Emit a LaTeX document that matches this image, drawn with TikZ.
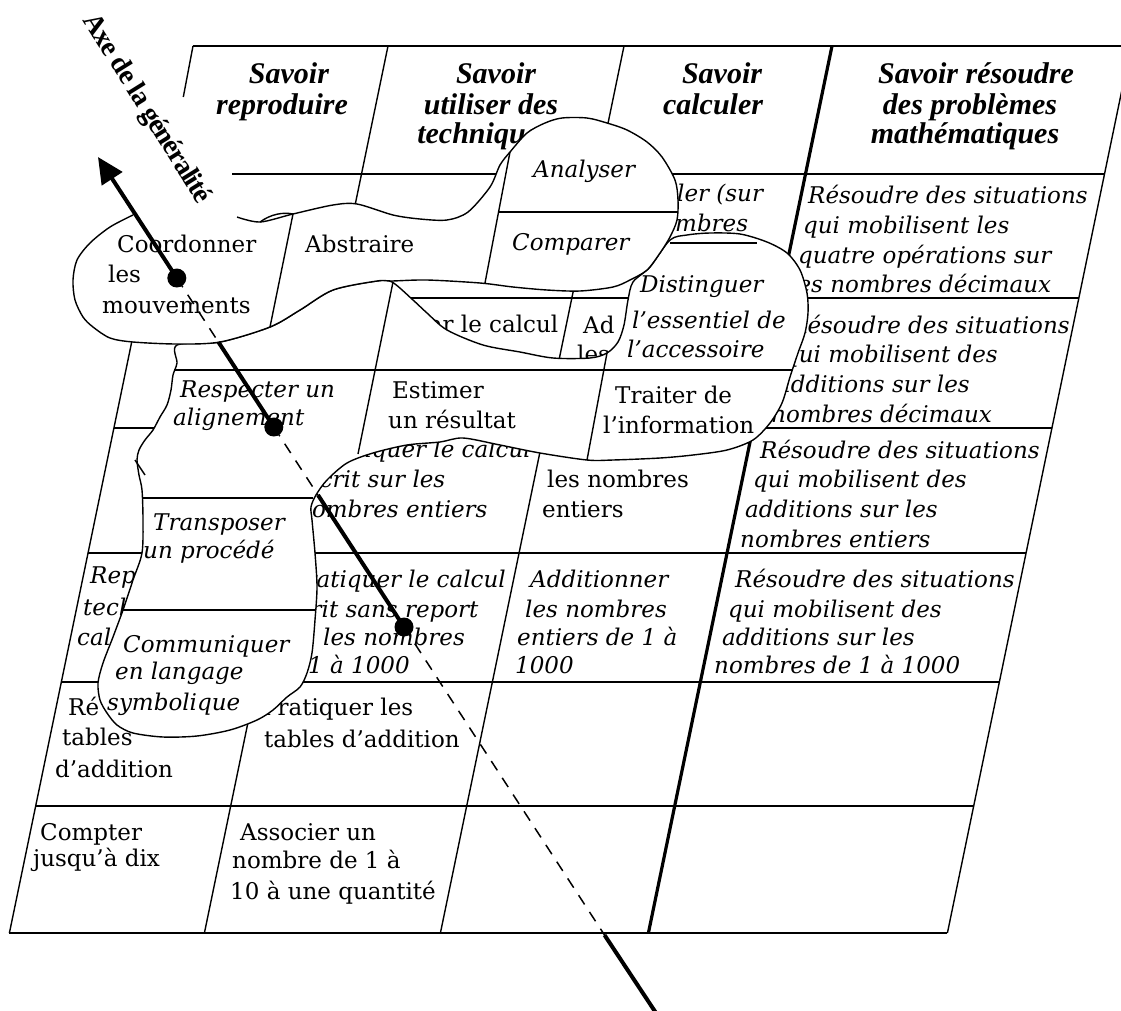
\documentclass[tikz,border=0pt]{standalone}
\usepackage{fontspec}
\setmainfont{DejaVu Serif}
\newfontfamily\hdrfam{Liberation Serif}
\newfontfamily\lblfam[LetterSpace=-4]{Liberation Serif}
\usetikzlibrary{arrows.meta}
\newcommand\cfnt{\fontsize{23}{28}\selectfont}
\newcommand\hfnt{\hdrfam\fontsize{30}{33}\selectfont\bfseries\itshape}
\newcommand\lfnt{\lblfam\fontsize{28}{30}\selectfont\bfseries}
\tikzset{
  gridline/.style={line width=1.4pt},
  thickcol/.style={line width=3.2pt},
  blobfill/.style={fill=white},
  blobline/.style={line width=1.4pt, line join=round},
  ci/.style={anchor=base west, inner sep=0pt, font=\cfnt\itshape},
  cu/.style={anchor=base west, inner sep=0pt, font=\cfnt},
  hd/.style={anchor=base, inner sep=0pt, font=\hfnt},
  axisline/.style={line width=4pt},
  axisdash/.style={line width=1.5pt, dash pattern=on 11pt off 9pt},
  dot/.style={circle, fill=black, inner sep=0pt, minimum size=19pt},
}
\begin{document}
\begin{tikzpicture}[x=1pt,y=-1pt]
\useasboundingbox (0,0) rectangle (1121,1010);

% ---------------- grid ----------------
\draw[gridline] (193,46) -- (1131,46);
\draw[gridline] (9.4,933) -- (947.4,933);
\draw[gridline] (193,46) -- (183.3,97);
\draw[gridline] (140.4,300) -- (9.4,933);
\draw[gridline] (388,46) -- (204.4,933);
\draw[gridline] (624,46) -- (440.4,933);
\draw[thickcol] (832,46) -- (648.4,933);
\draw[gridline] (1131,46) -- (947.4,933);
\draw[gridline] (232,174) -- (1104.5,174);
\draw[gridline] (140.8,298) -- (1078.8,298);
\draw[gridline] (113.9,428) -- (1051.9,428);
\draw[gridline] (88.1,553) -- (1026.1,553);
\draw[gridline] (61.3,682) -- (999.3,682);
\draw[gridline] (35.7,806) -- (973.7,806);

% headers
\node[hd] (h1a) at (289,83) {Savoir};
\node[hd] (h1b) at (282,114) {reproduire};
\node[hd] (h2a) at (496,83) {Savoir};
\node[hd] (h2b) at (491,114) {utiliser des};
\node[hd] (h2c) at (484,143) {techniques};
\node[hd] (h3a) at (722,83) {Savoir};
\node[hd] (h3b) at (713,114) {calculer};
\node[hd] (h4a) at (976,83) {Savoir résoudre};
\node[hd] (h4b) at (970,114) {des problèmes};
\node[hd] (h4c) at (965,143) {mathématiques};

% row 1
\node[ci] (r1c2a) at (677,201) {ler (sur};
\node[ci] (r1c2b) at (675,231) {mbres};
\node[ci] (r1c3a) at (808,203) {Résoudre des situations};
\node[ci] (r1c3b) at (803,233) {qui mobilisent les};
\node[ci] (r1c3c) at (798,263) {quatre opérations sur};
\node[ci] (r1c3d) at (790,292) {les nombres décimaux};
% row 2
\node[cu] (r2c1a) at (414,332) {par le calcul};
\node[cu] (r2c2a) at (583,333) {Ad};
\node[cu] (r2c2b) at (577,362) {les};
\node[ci] (r2c3a) at (790,333) {Résoudre des situations};
\node[ci] (r2c3b) at (784,362) {qui mobilisent des};
\node[ci] (r2c3c) at (777,392) {additions sur les};
\node[ci] (r2c3d) at (771,422) {nombres décimaux};
% row 3
\node[ci] (r3c1a) at (315,457) {Pratiquer le calcul};
\node[ci] (r3c1b) at (306,487) {écrit sur les};
\node[ci] (r3c1c) at (297,517) {nombres entiers};
\node[cu] (r3c2b) at (547,487) {les nombres};
\node[cu] (r3c2c) at (542,517) {entiers};
\node[ci] (r3c3a) at (760,458) {Résoudre des situations};
\node[ci] (r3c3b) at (753,487) {qui mobilisent des};
\node[ci] (r3c3c) at (745,517) {additions sur les};
\node[ci] (r3c3d) at (740,547) {nombres entiers};
% row 4
\node[ci] (r4c0a) at (90,583) {Reproduire des};
\node[ci] (r4c0b) at (83,615) {techniques de};
\node[ci] (r4c0c) at (77,645) {cal};
\node[ci] (r4c1a) at (290,587) {Pratiquer le calcul};
\node[ci] (r4c1b) at (284,617) {écrit sans report};
\node[ci] (r4c1c) at (323,645) {les nombres};
\node[ci] (r4c1d) at (308,673) {1 à 1000};
\node[ci] (r4c2a) at (530,587) {Additionner};
\node[ci] (r4c2b) at (525,617) {les nombres};
\node[ci] (r4c2c) at (517,645) {entiers de 1 à};
\node[ci] (r4c2d) at (515,673) {1000};
\node[ci] (r4c3a) at (735,587) {Résoudre des situations};
\node[ci] (r4c3b) at (728,617) {qui mobilisent des};
\node[ci] (r4c3c) at (722,645) {additions sur les};
\node[ci] (r4c3d) at (714,673) {nombres de 1 à 1000};
% row 5
\node[cu] (r5c0a) at (68,715) {Ré};
\node[cu] (r5c0b) at (62,745) {tables};
\node[cu] (r5c0c) at (55,777) {d’addition};
\node[cu] (r5c1a) at (262,715) {Pratiquer les};
\node[cu] (r5c1b) at (264,747) {tables d’addition};
% row 6
\node[cu] (r6c0a) at (40,840) {Compter};
\node[cu] (r6c0b) at (33,866) {jusqu’à dix};
\node[cu] (r6c1a) at (240,840) {Associer un};
\node[cu] (r6c1b) at (232,868) {nombre de 1 à};
\node[cu] (r6c1c) at (230,899) {10 à une quantité};

% ---------------- lower blob ----------------
\path[blobfill, draw, blobline] plot[smooth cycle, tension=0.5] coordinates {
(177,345) (177,363) (173,375) (171,390) (167,405) (160,417) (153,430) (145,440)
(139,450) (137,460) (139,475) (142,490) (143,520) (142,553) (133,580) (123,610)
(113,637) (103,663) (98,683) (100,700) (107,713) (117,725) (133,733) (163,737)
(197,736) (230,730) (257,720) (273,710) (287,697) (300,687) (307,673) (312,653)
(315,620) (317,587) (315,553) (312,520) (311,507) (316,495) (327,480) (347,463)
(373,453) (407,445) (440,442) (463,438) (500,445) (540,453) (587,460) (613,460)
(660,458) (693,455) (727,450) (753,440) (770,423) (782,403) (790,377) (798,353)
(805,333) (808,313) (807,293) (800,270) (787,253) (767,242) (740,234) (710,233)
(687,235) (670,240) (650,267) (633,282) (628,300) (624,325) (618,342) (607,353)
(590,358) (553,358) (520,352) (483,345) (447,330) (427,313) (413,300) (392,282)
(377,281) (333,290) (300,310) (270,327) (220,342)};

% ---------------- upper blob ----------------
\fill[blobfill] plot[smooth cycle, tension=0.5] coordinates {
(133,215) (185,213) (237,217) (260,222) (293,214) (333,205) (357,204) (393,215)
(420,219) (447,220) (468,212) (490,187) (500,165) (510,152) (527,133) (545,123)
(562,118) (587,118) (607,123) (627,130) (647,142) (662,157) (675,180) (678,200)
(677,220) (670,237) (660,253) (647,270) (630,280) (613,287) (580,291) (547,290)
(513,287) (480,283) (427,280) (392,281) (377,281) (333,290) (300,310) (270,327)
(220,342) (177,344) (133,342) (110,338) (93,327) (83,317) (75,300) (73,280)
(77,260) (90,243) (110,227)};
\draw[blobline] plot[smooth, tension=0.5] coordinates {
(237,217) (260,222) (293,214) (333,205) (357,204) (393,215)
(420,219) (447,220) (468,212) (490,187) (500,165) (510,152) (527,133) (545,123)
(562,118) (587,118) (607,123) (627,130) (647,142) (662,157) (675,180) (678,200)
(677,220) (670,237) (660,253) (647,270) (630,280) (613,287) (580,291) (547,290)
(513,287) (480,283) (427,280) (392,281) (377,281) (333,290) (300,310) (270,327)
(220,342) (177,344) (133,342) (110,338) (93,327) (83,317) (75,300) (73,280)
(77,260) (90,243) (110,227) (133,215)};
\draw[blobline] (260,222) .. controls (271,214) and (283,212) .. (293,214);

% inner lines of the blobs
\draw[blobline] (293,214) -- (270,327);
\draw[blobline] (510,152) -- (485,283);
\draw[blobline] (498,212) -- (678,212);
\draw[blobline] (670,243) -- (757,243);
\draw[blobline] (174,370) -- (792,370);
\draw[blobline] (393,282) -- (358,454);
\draw[blobline] (607,353) -- (587,460);
\draw[blobline] (142,498) -- (313,498);
\draw[blobline] (123,610) -- (316,610);
\draw[blobline] (135,460) -- (145,475);

% blob texts
\node[cu] (t1a) at (117,252) {Coordonner};
\node[cu] (t1b) at (108,282) {les};
\node[cu] (t1c) at (102,313) {mouvements};
\node[cu] (t2) at (305,252) {Abstraire};
\node[ci] (t3) at (533,177) {Analyser};
\node[ci] (t4) at (512,250) {Comparer};
\node[ci] (t5a) at (640,292) {Distinguer};
\node[ci] (t5b) at (632,328) {l’essentiel de};
\node[ci] (t5c) at (627,357) {l’accessoire};
\node[cu] (t6a) at (615,403) {Traiter de};
\node[cu] (t6b) at (603,433) {l’information};
\node[cu] (t7a) at (392,398) {Estimer};
\node[cu] (t7b) at (388,428) {un résultat};
\node[ci] (t8a) at (180,397) {Respecter un};
\node[ci] (t8b) at (173,425) {alignement};
\node[ci] (t9a) at (153,530) {Transposer};
\node[ci] (t9b) at (143,558) {un procédé};
\node[ci] (t10a) at (123,652) {Communiquer};
\node[ci] (t10b) at (115,679) {en langage};
\node[ci] (t10c) at (107,710) {symbolique};

% ---------------- axis ----------------
\coordinate (tip) at (98,157);
\coordinate (e1) at (218.4,342);
\coordinate (e2) at (318,495);
\coordinate (e3) at (604.5,935);
\coordinate (tail) at (658,1016);
\node[dot] (d1) at (176.8,278) {};
\node[dot] (d2) at (273.8,427) {};
\node[dot] (d3) at (404,627) {};
\draw[axisline, -{Triangle[length=26pt,width=24pt]}] (d1.center) -- (tip);
\draw[axisdash] (d1.center) -- (e1);
\draw[axisline] (e1) -- (d2.center);
\draw[axisdash] (d2.center) -- (e2);
\draw[axisline] (e2) -- (d3.center);
\draw[axisdash] (d3.center) -- (e3);
\draw[axisline] (e3) -- (tail);

% label
\node[font=\lfnt, rotate=-58, inner sep=0pt] (axe) at (146,109) {Axe de la généralité};
\end{tikzpicture}
\end{document}
